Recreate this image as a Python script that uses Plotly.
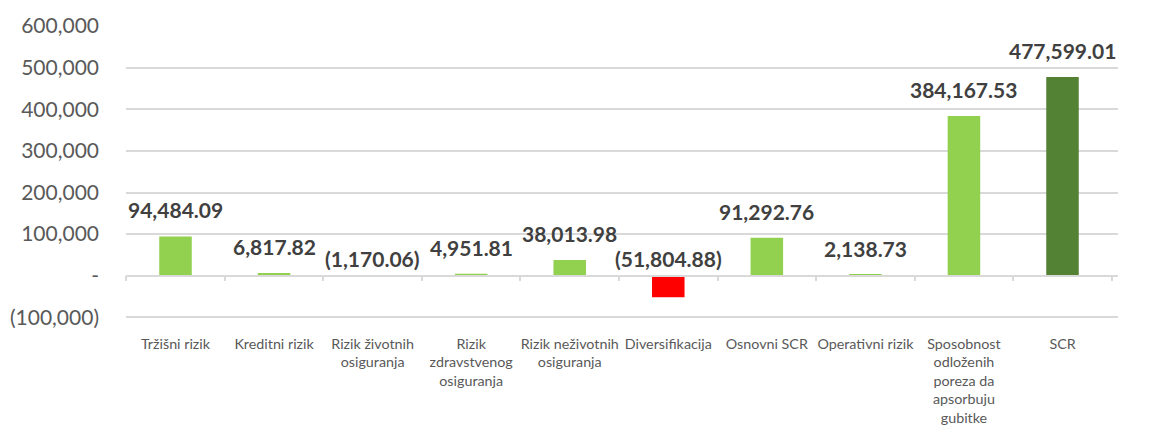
import plotly.graph_objects as go

categories = [
    "Tržišni rizik",
    "Kreditni rizik",
    "Rizik životnih<br>osiguranja",
    "Rizik<br>zdravstvenog<br>osiguranja",
    "Rizik neživotnih<br>osiguranja",
    "Diversifikacija",
    "Osnovni SCR",
    "Operativni rizik",
    "Sposobnost<br>odloženih<br>poreza da<br>apsorbuju<br>gubitke",
    "SCR",
]
values = [94484.09, 6817.82, -1170.06, 4951.81, 38013.98, -51804.88,
          91292.76, 2138.73, 384167.53, 477599.01]
bar_colors = ["#92D050", "#92D050", "#92D050", "#92D050", "#92D050", "#FF0000",
              "#92D050", "#92D050", "#92D050", "#548235"]
y_tickvals = [-100000, 0, 100000, 200000, 300000, 400000, 500000, 600000]
y_ticktext = ["(100,000)", "-", "100,000", "200,000", "300,000", "400,000",
              "500,000", "600,000"]


def fmt(v):
    s = f"{abs(v):,.2f}"
    return f"({s})" if v < 0 else s


fig = go.Figure()
fig.add_trace(go.Bar(
    x=categories, y=values, marker_color=bar_colors, marker_line_width=0,
    showlegend=False, hoverinfo="skip",
))

for c, v in zip(categories, values):
    fig.add_annotation(
        x=c, y=max(v, 0), text=f"<b>{fmt(v)}</b>", showarrow=False,
        yanchor="bottom", yshift=12 if v >= 0 else 3,
        font=dict(family="Lato", size=21, color="#404040"),
    )

y_lo, y_hi = -104000, 600300

fig.update_layout(
    width=1158, height=419,
    margin=dict(l=118, r=48, t=18, b=108, autoexpand=False),
    paper_bgcolor="white", plot_bgcolor="white",
    bargap=0.67,
    font=dict(family="Lato"),
    xaxis=dict(
        anchor="free", position=(0 - y_lo) / (y_hi - y_lo),
        showgrid=False, showline=True, automargin=False,
        linecolor="#D9D9D9", linewidth=1.5,
        ticks="outside", tickson="boundaries", ticklen=5,
        tickcolor="#D9D9D9", tickwidth=1.5,
        tickfont=dict(family="Lato", size=14.3, color="#595959"),
        tickangle=0, ticklabelstandoff=55,
    ),
    yaxis=dict(
        range=[y_lo, y_hi], tickvals=y_tickvals, ticktext=y_ticktext,
        showgrid=True, gridcolor="#D9D9D9", gridwidth=1.5,
        zeroline=False, showline=False, ticks="", automargin=False,
        tickfont=dict(family="Lato", size=21, color="#595959"),
        ticklabelstandoff=26,
    ),
)

fig.write_html("out.html")
